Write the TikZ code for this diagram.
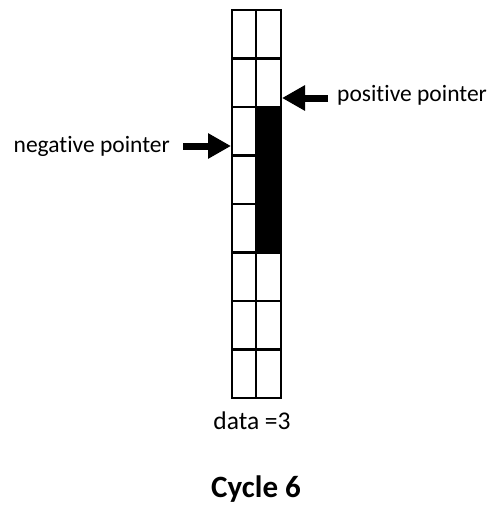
\documentclass[tikz,border=0pt]{standalone}
\usepackage{fontspec}
\setmainfont{Carlito}[Ligatures=CommonOff]
\usetikzlibrary{arrows.meta}
\begin{document}
\begin{tikzpicture}[x=1pt,y=-1pt,
  gridline/.style={line width=2.6pt},
  ptr/.style={line width=7pt,-{Triangle[length=23pt,width=24pt]}},
  lbl/.style={inner sep=0pt,font=\fontsize{23.5}{28}\selectfont}]
\useasboundingbox (0,0) rectangle (494,506);
% black filled region
\fill[black] (256,107) rectangle (281,252);
% grid
\draw[gridline] (232,10) rectangle (281,398);
\draw[gridline] (256,10) -- (256,398);
\foreach \yy in {58.5,107,155.5,204,252.5,301,349.5}
  \draw[gridline] (232,\yy) -- (281,\yy);
% labels
\node[lbl,anchor=base east] (neg) at (170,152) {negative pointer};
\node[lbl,anchor=base west] (pos) at (337,101) {positive pointer};
\node[inner sep=0pt,anchor=base,font=\fontsize{25.5}{30}\selectfont] (data) at (252,429) {data =3};
\node[inner sep=0pt,anchor=base,font=\fontsize{31}{36}\selectfont\bfseries] (cyc) at (256,497) {Cycle 6};
% pointer arrows
\coordinate (negtail) at (183,146);
\coordinate (negtip) at (231,146);
\coordinate (postail) at (328,98);
\coordinate (postip) at (282,98);
\draw[ptr] (negtail) -- (negtip);
\draw[ptr] (postail) -- (postip);
\end{tikzpicture}
\end{document}
